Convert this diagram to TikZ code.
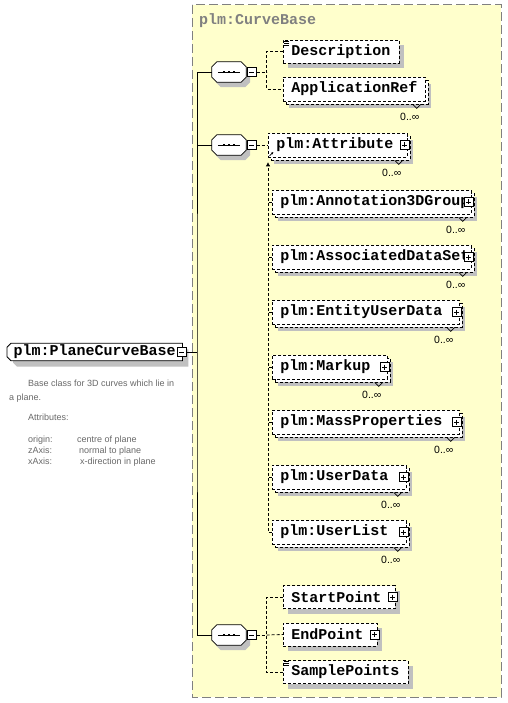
\documentclass[tikz,border=0pt]{standalone}
\usepackage{fontspec}
\setmainfont{Liberation Sans}
\setmonofont{Liberation Mono}
\usetikzlibrary{shadows,arrows.meta}

\pgfdeclarelayer{back}
\pgfdeclarelayer{background}
\pgfsetlayers{back,background,main}

\definecolor{groupfill}{RGB}{255,255,204}
\definecolor{groupline}{RGB}{128,128,128}
\definecolor{shadowgray}{RGB}{192,192,192}
\definecolor{docgray}{RGB}{105,105,105}

% outline with cut corners, drawn behind a named node
% #1 node, #2 cut at the left, #3 cut at the right, #4/#5 shadow shift
\newcommand\cutbox[5]{%
  \foreach \opt in {{fill=shadowgray, transform canvas={shift={(#4pt,#5pt)}}},{fill=white, draw, line width=0.8pt}}{
    \expandafter\path\expandafter[\opt]
      ([xshift=#2pt]#1.north west) -- ([xshift=-#3pt]#1.north east)
      -- ([yshift=-#3pt]#1.north east) -- ([yshift=#3pt]#1.south east)
      -- ([xshift=-#3pt]#1.south east) -- ([xshift=#2pt]#1.south west)
      -- ([yshift=#2pt]#1.south west) -- ([yshift=-#2pt]#1.north west) -- cycle;
  }}

\tikzset{
  dashline/.style={dash pattern=on 3pt off 2pt},
  link/.style={line width=0.8pt},
  dlink/.style={line width=0.8pt, dashline},
  elembase/.style={draw, line width=0.8pt, dashline, fill=white, anchor=west, align=left,
    inner xsep=8pt, inner ysep=0pt, minimum height=23pt,
    font=\ttfamily\bfseries\fontsize{15}{15}\selectfont},
  elem/.style={elembase,
    drop shadow={shadow xshift=5pt, shadow yshift=-5pt, fill=shadowgray, opacity=1}},
  multi/.style={elembase, minimum height=24pt,
    drop shadow={shadow xshift=6pt, shadow yshift=-7pt, fill=shadowgray, opacity=1},
    copy shadow={shadow xshift=3pt, shadow yshift=-3pt, draw=black, fill=white, dashline}},
  mainel/.style={anchor=west, minimum width=175pt, minimum height=17pt, inner sep=0pt,
    font=\ttfamily\bfseries\fontsize{15}{15}\selectfont},
  seq/.style={minimum width=34pt, minimum height=20pt, inner sep=0pt},
  collapse/.style={draw, line width=0.8pt, fill=white, minimum size=9pt, inner sep=0pt,
    path picture={\draw ([xshift=2pt]path picture bounding box.west) -- ([xshift=-2pt]path picture bounding box.east);}},
  expander/.style={collapse,
    path picture={\draw ([xshift=2pt]path picture bounding box.west) -- ([xshift=-2pt]path picture bounding box.east);
      \draw ([yshift=-2pt]path picture bounding box.north) -- ([yshift=2pt]path picture bounding box.south);}},
  occurs/.style={font=\fontsize{10.5}{10.5}\selectfont, inner sep=0pt},
  groupbox/.style={draw=groupline, fill=groupfill, line width=1pt, dash pattern=on 9pt off 4pt},
  grouptitle/.style={anchor=west, inner sep=0pt, text=groupline,
    font=\ttfamily\bfseries\fontsize{15}{15}\selectfont},
  doc/.style={text=docgray, font=\fontsize{9}{11}\selectfont, anchor=base west, inner sep=0pt}
}

\begin{document}
\begin{tikzpicture}[x=1pt,y=-1pt]
  \useasboundingbox (0,0) rectangle (507,703);

  % page and group of the complex type
  \begin{pgfonlayer}{back}
    \fill[white] (0,0) rectangle (507,703);
    \draw[groupbox] (192,5) rectangle (501,697);
  \end{pgfonlayer}
  \node[grouptitle] (grouptitle) at (199,21) {plm:CurveBase};

  % the element itself
  \node[mainel] (curvebase) at (7,352) {plm:PlaneCurveBase\hspace{6pt}};
  \begin{pgfonlayer}{background}
    \cutbox{curvebase}{4}{0}{6}{-6}
  \end{pgfonlayer}
  \node[collapse] (curvebase-m) at ([xshift=-0.5pt]curvebase.east) {};
  \coordinate (trunk) at (197,352);

  % the three sequences
  \node[seq] (seq1) at (229,72) {};
  \node[seq] (seq2) at (229,145) {};
  \node[seq] (seq3) at (229,635) {};
  \foreach \s in {seq1,seq2,seq3}{
    \cutbox{\s}{5}{5}{4}{-5}
    \draw[link] ([xshift=6pt]\s.west) -- ([xshift=-6pt]\s.east);
    \foreach \d in {-5,0,5}
      \fill ([xshift=\d pt]\s.center) +(-1.3,-1.3) rectangle +(1.3,1.3);
    \node[collapse] (\s-m) at ([xshift=5.5pt]\s.east) {};
  }

  % children
  \node[elem, text width=100pt] (desc) at (283,51.5) {Description};
  \node[multi, text width=126pt] (appref) at (283,89) {ApplicationRef};
  \node[multi, text width=123pt] (attribute) at (268,145) {plm:Attribute};
  \node[multi, text width=183pt] (annot) at (272,202) {plm:Annotation3DGroup};
  \node[multi, text width=183pt] (assoc) at (272,257) {plm:AssociatedDataSet};
  \node[multi, text width=171pt] (entity) at (272,312) {plm:EntityUserData};
  \node[multi, text width=99pt] (markup) at (272,367) {plm:Markup};
  \node[multi, text width=171pt] (mass) at (272,422) {plm:MassProperties};
  \node[multi, text width=118pt] (userdata) at (272,477) {plm:UserData};
  \node[multi, text width=118pt] (userlist) at (272,532) {plm:UserList};
  \node[elem, text width=96pt] (start) at (283,597) {StartPoint};
  \node[elem, text width=78pt] (endp) at (283,634.5) {EndPoint};
  \node[elem, text width=109pt] (samples) at (283,672) {SamplePoints};

  % expand boxes
  \foreach \n in {attribute,annot,assoc,entity,markup,mass,userdata,userlist,start,endp}
    \node[expander] (\n-x) at ([xshift=-3pt]\n.east) {};

  % occurrence marks
  \foreach \n in {appref,attribute,annot,assoc,entity,markup,mass,userdata,userlist}{
    \draw[line width=0.7pt] ([xshift=-13pt,yshift=-3pt]\n.south east) -- ++(4,4) -- ++(4,-4);
    \node[occurs] (\n-occ) at ([xshift=-16pt,yshift=-15pt]\n.south east) {0..∞};
  }

  % text content marks
  \foreach \n in {desc,samples}
    \foreach \k in {1.5,3.5,5.5}
      \draw[line width=0.6pt] ([xshift=1pt,yshift=-\k pt]\n.north west) -- ++(5,0);

  % solid connectors
  \draw[link] (curvebase-m.east) -- (trunk);
  \draw[link] (seq1.west) -| (trunk) |- (seq3.west);
  \draw[link] (seq2.west) -- (seq2.west -| trunk);

  % dashed connectors
  \draw[dlink] (seq1-m.east) -- ++(10,0) coordinate (seq1-j);
  \draw[dlink] (desc.west) -| (seq1-j) |- (appref.west);
  \draw[dlink] (seq2-m.east) -- (attribute.west);
  \draw[dlink] (seq3-m.east) -- ++(10,0) coordinate (seq3-j);
  \draw[dlink] (start.west) -| (seq3-j) |- (samples.west);
  \draw[dlink] (seq3-j) -- (endp.west);

  % substitution group
  \draw[dlink, -{Triangle[length=4pt,width=4pt]}] (userlist.west) -| ([yshift=-5pt]attribute.south west);
  \foreach \n in {annot,assoc,entity,markup,mass,userdata}
    \draw[dlink] (\n.west) -- (\n.west -| attribute.south west);
  \draw[line width=0.7pt, -{Latex[length=2.5pt,width=2.5pt]}] ([xshift=1.5pt,yshift=1.5pt]attribute.south west) -- ++(4,-4);

  % documentation
  \node[doc] (doc1) at (28,386) {Base class for 3D curves which lie in};
  \node[doc] (doc2) at (9,400) {a plane.};
  \node[doc] (doc3) at (28,420) {Attributes:};
  \foreach \y/\k/\vx/\v in {442/origin:/77/centre of plane, 453/zAxis:/79/normal to plane, 464/xAxis:/80/x-direction in plane}{
    \node[doc] (key\y) at (28,\y) {\k};
    \node[doc] (val\y) at (\vx,\y) {\v};
  }
\end{tikzpicture}
\end{document}
